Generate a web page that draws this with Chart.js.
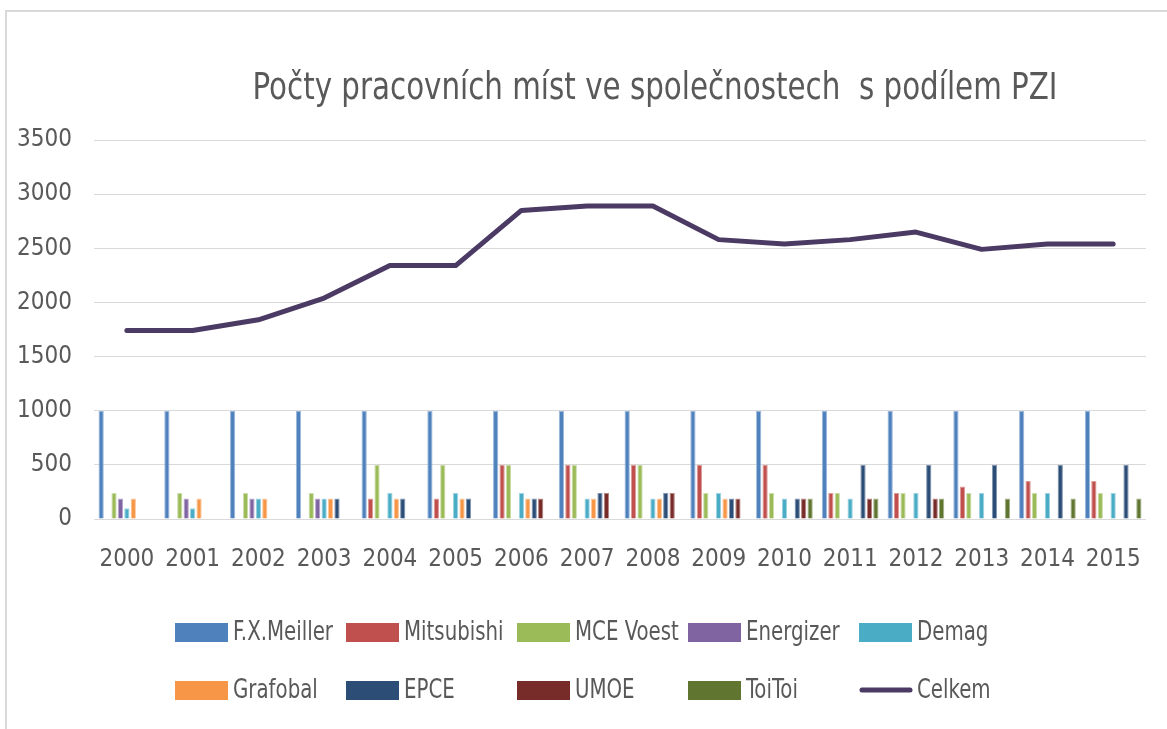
<!DOCTYPE html>
<html>
<head>
<meta charset="utf-8">
<script src="https://cdn.jsdelivr.net/npm/chart.js@4.4.1/dist/chart.umd.min.js"></script>
<style>
  html, body { margin: 0; padding: 0; background: #fff; overflow: hidden; }
  #wrap { position: relative; width: 1167px; height: 729px; }
  #frame { position: absolute; left: 5px; top: 10px; width: 1300px; height: 900px;
           border-top: 2px solid #d9d9d9; border-left: 2px solid #d9d9d9; pointer-events: none; }
  canvas { position: absolute; left: 0; top: 0; }
</style>
</head>
<body>
<div id="wrap">
  <canvas id="c" width="1167" height="729"></canvas>
  <div id="frame"></div>
</div>
<script>
const years = ['2000','2001','2002','2003','2004','2005','2006','2007','2008','2009','2010','2011','2012','2013','2014','2015'];
const fxMeiller  = [1000,1000,1000,1000,1000,1000,1000,1000,1000,1000,1000,1000,1000,1000,1000,1000];
const mitsubishi = [null,null,null,null,190,190,500,500,500,500,500,240,240,300,350,350];
const mceVoest   = [240,240,240,240,500,500,500,500,500,240,240,240,240,240,240,240];
const energizer  = [190,190,190,190,null,null,null,null,null,null,null,null,null,null,null,null];
const demag      = [100,100,190,190,240,240,240,190,190,240,190,190,240,240,240,240];
const grafobal   = [190,190,190,190,190,190,190,190,190,190,null,null,null,null,null,null];
const epce       = [null,null,null,190,190,190,190,240,240,190,190,500,500,500,500,500];
const umoe       = [null,null,null,null,null,null,190,240,240,190,190,190,190,null,null,null];
const toiToi     = [null,null,null,null,null,null,null,null,null,null,190,190,190,190,190,190];
const celkem     = [1740,1740,1840,2040,2340,2340,2850,2890,2890,2580,2540,2580,2650,2490,2540,2540];
const yTicks     = [0,500,1000,1500,2000,2500,3000,3500];

const FONT = '"Liberation Sans Narrow", "DejaVu Sans Condensed", "Liberation Sans", sans-serif';

function bar(label, data, color, border) {
  return { type: 'bar', label, data, backgroundColor: color, borderColor: border, borderWidth: 1, order: 2 };
}

function squeezedText(ctx, text, x, y, sx) {
  ctx.save();
  ctx.translate(x, y);
  ctx.scale(sx, 1);
  ctx.fillText(text, 0, 0);
  ctx.restore();
}

const decorPlugin = {
  id: 'customDecor',
  afterDraw(chart) {
    const ctx = chart.ctx;
    ctx.save();
    // title
    const title = 'Počty pracovních míst ve společnostech  s podílem PZI';
    ctx.fillStyle = '#595959';
    ctx.font = '37px ' + FONT;
    ctx.textAlign = 'center';
    ctx.textBaseline = 'middle';
    const tw = ctx.measureText(title).width;
    squeezedText(ctx, title, 655, 89, 805 / tw);
    // legend
    ctx.font = '26px ' + FONT;
    ctx.textAlign = 'left';
    const sx = 100 / ctx.measureText('F.X.Meiller').width;
    chart.data.datasets.forEach((ds, i) => {
      const col = i % 5, row = Math.floor(i / 5);
      const x = 175 + col * 171;
      const y = row === 0 ? 632 : 690;
      if (ds.type === 'line') {
        ctx.strokeStyle = ds.borderColor;
        ctx.lineWidth = 5;
        ctx.lineCap = 'round';
        ctx.beginPath(); ctx.moveTo(x + 3, y); ctx.lineTo(x + 51, y); ctx.stroke();
      } else {
        ctx.fillStyle = ds.backgroundColor;
        ctx.fillRect(x, y - 9, 53, 19);
      }
      ctx.fillStyle = '#595959';
      squeezedText(ctx, ds.label, x + 58, y + 1, sx);
    });
    ctx.restore();
  }
};

new Chart(document.getElementById('c'), {
  data: {
    labels: years,
    datasets: [
      bar('F.X.Meiller', fxMeiller, '#4F81BD', '#9DB9DD'),
      bar('Mitsubishi', mitsubishi, '#C0504D', '#DC9A98'),
      bar('MCE Voest', mceVoest, '#9BBB59', '#CCDDAA'),
      bar('Energizer', energizer, '#8064A2', '#B7A6CC'),
      bar('Demag', demag, '#4BACC6', '#9ED3E2'),
      bar('Grafobal', grafobal, '#F79646', '#FBC79C'),
      bar('EPCE', epce, '#2C4D75', '#8096B2'),
      bar('UMOE', umoe, '#772C2A', '#B58583'),
      bar('ToiToi', toiToi, '#5F7530', '#A3B189'),
      { type: 'line', label: 'Celkem', data: celkem, borderColor: '#4B3A63', backgroundColor: '#4B3A63',
        borderWidth: 5, pointRadius: 0, tension: 0, order: 1, borderCapStyle: 'round', borderJoinStyle: 'round' }
    ]
  },
  options: {
    responsive: false,
    animation: false,
    layout: { padding: { top: 140, right: 12, left: 0, bottom: 0 } },
    datasets: { bar: { categoryPercentage: 0.88, barPercentage: 0.82 } },
    plugins: { legend: { display: false }, title: { display: false }, tooltip: { enabled: false } },
    scales: {
      x: {
        grid: { display: false, drawTicks: false },
        border: { display: false },
        ticks: { color: '#595959', font: { family: FONT, size: 24 }, padding: 26, maxRotation: 0, autoSkip: false },
        afterFit(s) { s.height = 210; }
      },
      y: {
        min: 0, max: 3500,
        afterBuildTicks(s) { s.ticks = yTicks.map(v => ({ value: v })); },
        grid: { color: '#D9D9D9', lineWidth: 1, drawTicks: false },
        border: { display: false },
        ticks: { color: '#595959', font: { family: FONT, size: 24 }, padding: 22, callback: v => String(v) },
        afterFit(s) { s.width = 94; }
      }
    }
  },
  plugins: [decorPlugin]
});
</script>
</body>
</html>
